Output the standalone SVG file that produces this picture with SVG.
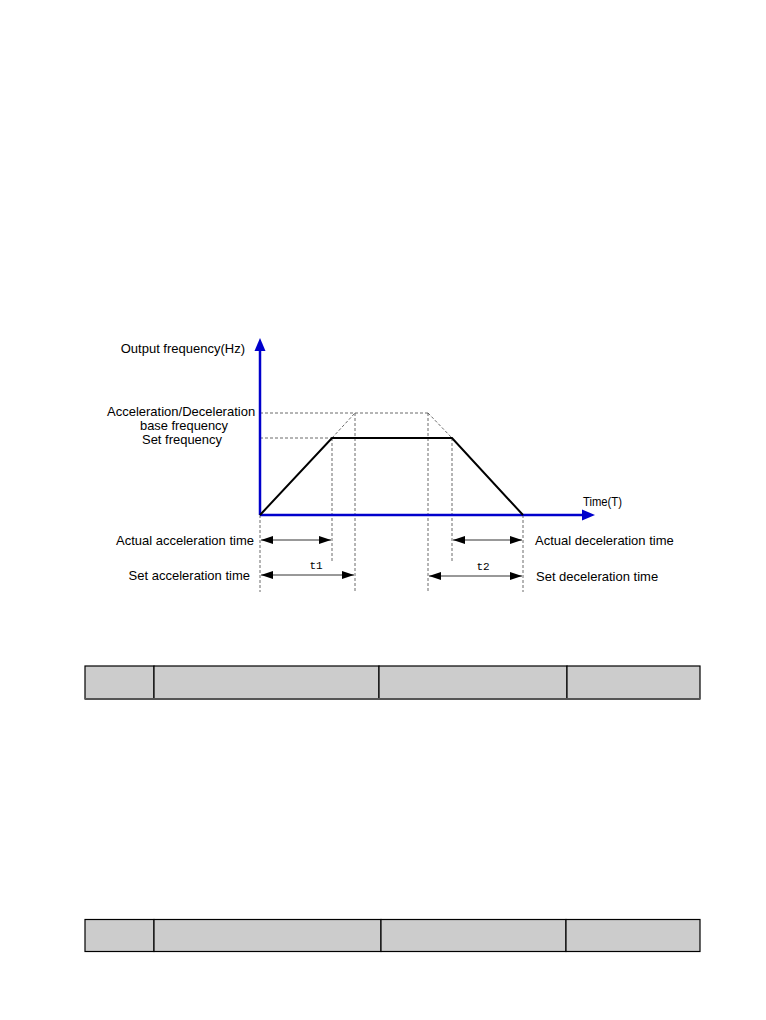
<svg xmlns="http://www.w3.org/2000/svg" width="766" height="1020" viewBox="0 0 766 1020">
<style>
.lbl{font-family:"Liberation Sans",Arial,sans-serif;font-size:13px;fill:#000}
.tight{font-family:"Liberation Sans",Arial,sans-serif;font-size:12.4px;fill:#000}
.sm{font-family:"Liberation Sans",Arial,sans-serif;font-size:12px;fill:#000}
.mono{font-family:"Liberation Mono","DejaVu Sans Mono",monospace;font-size:11px;fill:#000}
.dash{stroke:#444;stroke-width:0.8;stroke-dasharray:3,2;fill:none}
.axis{stroke:#0000cc;stroke-width:2.5;fill:none}
.curve{stroke:#000;stroke-width:2;fill:none;stroke-linejoin:miter}
.dim{stroke:#333;stroke-width:1;fill:none;marker-start:url(#ah);marker-end:url(#ah)}
.cell{fill:#cccccc;stroke:#000;stroke-width:1.2}
</style>
<defs>
<marker id="ah" viewBox="0 0 12 8" refX="12" refY="4" markerWidth="12" markerHeight="8" markerUnits="userSpaceOnUse" orient="auto-start-reverse">
<path d="M0,0 L12,4 L0,8 Z" fill="#000"/>
</marker>
</defs>
<rect width="766" height="1020" fill="#fff"/>
<g id="guides">
<path class="dash" d="M260,413 H428 M260,438 H332 M332,438 L355,413 M428,413 L452,438"/>
<path class="dash" d="M260,515 V592 M332,438 V563 M355,413 V592 M428,413 V592 M452,438 V563 M523,515 V592"/>
</g>
<g id="axes">
<path class="axis" d="M260,515 V350"/>
<path d="M260,338 L265.5,351 L254.5,351 Z" fill="#0000cc"/>
<path class="axis" d="M260,515 H584"/>
<path d="M595,515 L582,509.5 L582,520.5 Z" fill="#0000cc"/>
</g>
<g id="curve">
<path class="curve" d="M260,515 L332,438 H452 L523,515"/>
</g>
<g id="connectors">
<path class="dim" d="M261,540 H331"/>
<path class="dim" d="M261,575 H354"/>
<path class="dim" d="M453,540 H522"/>
<path class="dim" d="M429,576 H522"/>
</g>
<g id="labels">
<text class="lbl" x="245" y="352.5" text-anchor="end">Output frequency(Hz)</text>
<text class="lbl" x="107" y="416.4">Acceleration/Deceleration</text>
<text class="tight" x="184" y="429.5" text-anchor="middle" textLength="88" lengthAdjust="spacingAndGlyphs">base frequency</text>
<text class="tight" x="222" y="443.8" text-anchor="end" textLength="80" lengthAdjust="spacingAndGlyphs">Set frequency</text>
<text class="sm" x="583" y="506" textLength="39" lengthAdjust="spacingAndGlyphs">Time(T)</text>
<text class="lbl" x="254" y="544.7" text-anchor="end">Actual acceleration time</text>
<text class="lbl" x="250" y="579.7" text-anchor="end">Set acceleration time</text>
<text class="lbl" x="535" y="544.7">Actual deceleration time</text>
<text class="lbl" x="536" y="580.5">Set deceleration time</text>
<text class="mono" x="316" y="569" text-anchor="middle">t1</text>
<text class="mono" x="483" y="570" text-anchor="middle">t2</text>
</g>
<g id="table1">
<rect class="cell" x="85" y="666" width="69" height="33"/>
<rect class="cell" x="154" y="666" width="225" height="33"/>
<rect class="cell" x="379" y="666" width="188" height="33"/>
<rect class="cell" x="567" y="666" width="133" height="33"/>
<path d="M85,699 H700" stroke="#555" stroke-width="2"/>
</g>
<g id="table2">
<rect class="cell" x="85" y="919.5" width="69" height="32"/>
<rect class="cell" x="154" y="919.5" width="227" height="32"/>
<rect class="cell" x="381" y="919.5" width="185" height="32"/>
<rect class="cell" x="566" y="919.5" width="134" height="32"/>
</g>
</svg>
